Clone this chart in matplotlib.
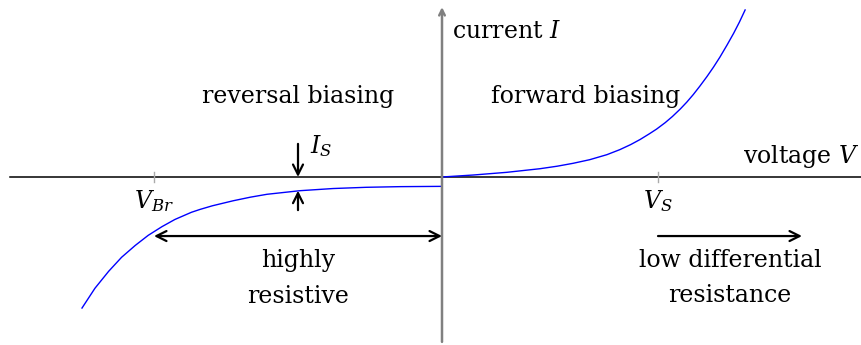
import matplotlib
matplotlib.use("Agg")
import matplotlib.pyplot as plt

plt.rcParams["font.family"] = ["DejaVu Serif"]
plt.rcParams["mathtext.fontset"] = "dejavuserif"

# Diode characteristic, read as (voltage, current) points in drawing units
fwd_v = [0.0, 0.44, 0.90, 1.36, 1.60, 1.82, 2.05, 2.29, 2.47, 2.62, 2.75, 2.88, 2.98, 3.10,
         3.20, 3.31, 3.40, 3.49, 3.58, 3.68, 3.77, 3.86, 3.96, 4.05, 4.13, 4.21]
fwd_i = [0.0, 0.028, 0.065, 0.115, 0.15, 0.19, 0.24, 0.31, 0.38, 0.45, 0.52, 0.60, 0.665, 0.755,
         0.84, 0.945, 1.04, 1.145, 1.26, 1.395, 1.525, 1.665, 1.835, 1.995, 2.15, 2.32]
rev_v = [0.0, -0.58, -1.05, -1.51, -1.97, -2.43, -2.66, -2.90, -3.19, -3.36, -3.48, -3.71,
         -3.89, -4.08, -4.26, -4.45, -4.63, -4.82, -5.00]
rev_i = [-0.13, -0.134, -0.143, -0.16, -0.19, -0.24, -0.28, -0.33, -0.40, -0.45, -0.49, -0.59,
         -0.69, -0.81, -0.95, -1.115, -1.31, -1.545, -1.82]

tick_pos = [-4.0, 3.0]
tick_labels = [r"$V_{Br}$", r"$V_S$"]
i_s_voltage = -2.0

fig = plt.figure(figsize=(8.62, 3.45), dpi=100)
ax = fig.add_axes([0, 0, 1, 1])
ax.set_xlim(-442 / 72, 420 / 72)
ax.set_ylim(-168 / 72, 177 / 72)
ax.axis("off")

fs = 17
arrow_kw = dict(arrowstyle="->", lw=1.6, color="black", mutation_scale=18, shrinkA=0, shrinkB=0)

# axes
ax.plot([-6.0, 5.85], [0, 0], color="black", lw=1.1)
ax.annotate("", xy=(0, 2.36), xytext=(0, -2.29),
            arrowprops=dict(arrowstyle="->", lw=1.8, color="#808080", mutation_scale=10,
                            shrinkA=0, shrinkB=0))

# ticks
for tp, tl in zip(tick_pos, tick_labels):
    ax.plot([tp, tp], [-0.075, 0.075], color="#aaaaaa", lw=1.0)
    ax.text(tp, -0.43, tl, ha="center", va="baseline", fontsize=fs)

# curves
ax.plot(fwd_v, fwd_i, color="#0000ff", lw=1.0, solid_joinstyle="round")
ax.plot(rev_v, rev_i, color="#0000ff", lw=1.0, solid_joinstyle="round")

# labels
ax.text(0.14, 1.93, r"current $I$", ha="left", va="baseline", fontsize=fs)
ax.text(5.8, 0.19, r"voltage $V$", ha="right", va="baseline", fontsize=fs)
ax.text(-2.0, 1.03, "reversal biasing", ha="center", va="baseline", fontsize=fs)
ax.text(1.99, 1.03, "forward biasing", ha="center", va="baseline", fontsize=fs)

# saturation current markers
ax.annotate("", xy=(i_s_voltage, 0), xytext=(i_s_voltage, 0.46), arrowprops=arrow_kw)
ax.annotate("", xy=(i_s_voltage, -0.19), xytext=(i_s_voltage, -0.46), arrowprops=arrow_kw)
ax.text(-1.83, 0.33, r"$I_S$", ha="left", va="baseline", fontsize=fs)

# region arrows
ax.annotate("", xy=(-4.0, -0.82), xytext=(0, -0.82),
            arrowprops=dict(arrow_kw, arrowstyle="<->"))
ax.text(-2.0, -1.25, "highly", ha="center", va="baseline", fontsize=fs)
ax.text(-2.0, -1.75, "resistive", ha="center", va="baseline", fontsize=fs)
ax.annotate("", xy=(5.0, -0.82), xytext=(3.0, -0.82), arrowprops=arrow_kw)
ax.text(4.0, -1.25, "low differential", ha="center", va="baseline", fontsize=fs)
ax.text(4.0, -1.74, "resistance", ha="center", va="baseline", fontsize=fs)

fig.savefig("out.png", dpi=100)
